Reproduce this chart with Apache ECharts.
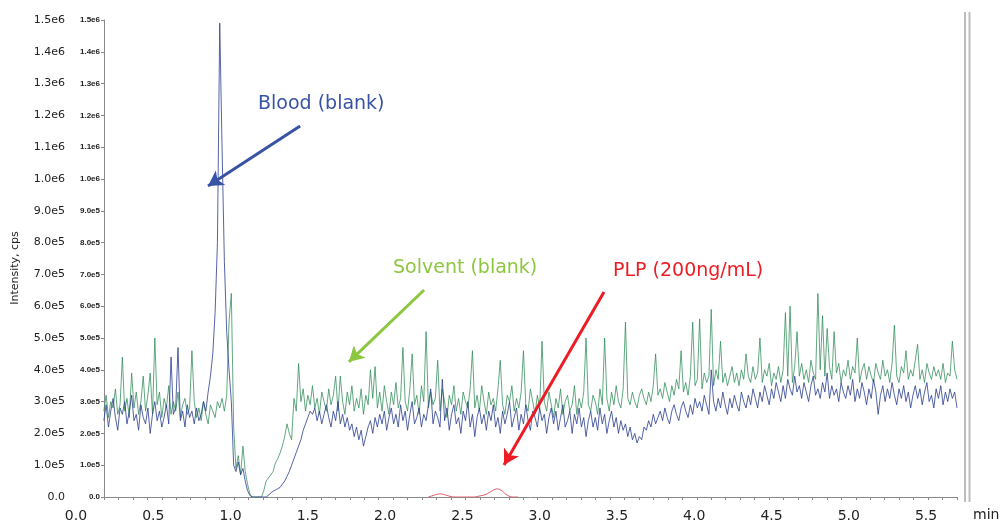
<!DOCTYPE html>
<html>
<head>
<meta charset="utf-8">
<script src="https://cdn.jsdelivr.net/npm/echarts@6/dist/echarts.min.js"></script>
<style>
  html, body { margin: 0; padding: 0; background: #fff; }
  #main { width: 1002px; height: 523px; }
</style>
</head>
<body>
<div id="main"></div>
<script>
// scan times: first scan and spacing (min)
var startTime = 0.18;
var scanStep = 0.015;

// intensities in units of 1e4 cps, one per scan
var bloodValues = [
  24, 29, 22, 27, 31, 25, 21, 28, 26, 30,
  23, 27, 32, 24, 26, 21, 29, 25, 23, 28,
  20, 26, 30, 24, 27, 22, 25, 29, 23, 44,
  26, 28, 47, 24, 27, 22, 29, 25, 27, 23,
  28, 24, 26, 30, 27, 33, 38, 45, 58, 80,
  149, 110, 74, 52, 40, 30, 10, 8, 11, 7,
  9, 5, 2, 0.5, 0, 0, 0, 0, 0, 0,
  0, 0.5, 1.3, 1.8, 2.2, 2.6, 3, 4, 5, 6.5,
  8, 10, 12, 14, 16, 18, 21, 23, 25, 27,
  26, 28, 24, 27, 23, 26, 29, 25, 22, 27,
  24, 30, 23, 26, 22, 25, 21, 23, 19, 22,
  18, 21, 16, 19, 22, 24, 20, 25, 22, 26,
  23, 27, 21, 25, 28, 23, 26, 22, 29, 24,
  27, 21, 26, 30, 23, 25, 28, 22, 26, 24,
  29, 34, 23, 27, 25, 22, 37, 24, 28, 21,
  26, 29, 23, 25, 20, 27, 24, 30, 22, 26,
  19, 25, 28, 23, 26, 21, 27, 24, 29, 22,
  25, 20, 27, 23, 26, 30, 22, 25, 28, 21,
  26, 23, 29, 24, 21, 27, 25, 22, 28, 24,
  26, 20, 25, 28, 23, 27, 21, 25, 29, 22,
  24, 27, 20, 26, 23, 28, 22, 25, 19, 24,
  27, 22, 25, 21, 28, 23, 26, 20, 24, 27,
  22, 25, 20, 24, 21, 23, 19, 22, 18, 20,
  17, 19, 18, 22, 21, 24, 22, 26, 23, 25,
  27, 24, 28, 25, 23, 27, 29, 26, 24, 28,
  30, 27, 25, 29, 26, 31, 28, 30, 27, 32,
  29, 26, 40, 30, 27, 31, 28, 33, 29, 26,
  31, 28, 32, 29, 27, 33, 30, 28, 32, 29,
  34, 31, 28, 33, 30, 35, 32, 29, 34, 31,
  36, 33, 30, 35, 31, 37, 34, 32, 38, 33,
  35, 31, 36, 33, 30, 35, 38, 32, 34, 31,
  36, 33, 39, 31, 35, 32, 34, 30, 36, 33,
  31, 35, 32, 37, 30, 34, 31, 36, 33, 29,
  34, 31, 37, 33, 26, 32, 35, 30, 34, 31,
  36, 32, 29, 34, 31, 35, 30, 33, 28, 32,
  35, 31, 34, 29, 33, 36, 30, 32, 28, 34,
  31, 35, 29, 33, 30, 34, 31, 33, 28
];

var solventValues = [
  27, 32, 25, 30, 28, 34, 26, 29, 44, 27,
  31, 25, 39, 28, 33, 26, 30, 38, 27, 32,
  39, 26, 50, 29, 33, 25, 31, 28, 35, 26,
  30, 27, 33, 25, 29, 31, 26, 28, 46, 30,
  25, 28, 24, 30, 26, 23, 29, 27, 25, 30,
  28, 31, 27, 32, 55, 64, 22, 9, 13, 7,
  16, 8, 4, 1, 0, 0, 0, 0, 0, 2,
  5, 6, 7, 8, 10.7, 12, 13.8, 16, 19, 23,
  20, 18, 31, 27, 42, 30, 34, 27, 32, 29,
  35, 28, 31, 26, 33, 30, 27, 34, 29, 32,
  38, 27, 38, 30, 26, 33, 29, 35, 27, 31,
  28, 34, 26, 32, 29, 40, 31, 41, 28, 33,
  27, 35, 30, 26, 33, 29, 36, 28, 31, 47,
  30, 27, 34, 45, 29, 32, 26, 35, 30, 52,
  28, 33, 29, 31, 43, 27, 34, 30, 25, 32,
  29, 35, 27, 31, 26, 33, 30, 28, 34, 46,
  28, 32, 27, 35, 30, 26, 33, 29, 31, 27,
  34, 43, 29, 26, 32, 30, 35, 27, 31, 28,
  33, 46, 29, 27, 34, 30, 26, 32, 28, 49,
  30, 27, 33, 29, 25, 31, 28, 34, 26, 30,
  32, 27, 29, 35, 26, 31, 28, 33, 50, 29,
  27, 32, 30, 26, 34, 29, 50, 31, 27, 33,
  29, 35, 30, 28, 34, 55, 31, 29, 33, 30,
  28, 32, 34, 31, 29, 33, 30, 35, 45, 32,
  34, 31, 36, 33, 30, 35, 32, 37, 34, 46,
  33, 36, 32, 38, 55, 35, 37, 56, 34, 39,
  36, 38, 59, 35, 40, 37, 49, 36, 39, 35,
  38, 41, 36, 39, 35, 40, 37, 45, 38, 36,
  41, 37, 39, 50, 36, 40, 38, 42, 35, 39,
  37, 41, 36, 40, 58, 38, 60, 36, 41, 52,
  38, 42, 37, 40, 36, 43, 39, 37, 64, 40,
  57, 38, 53, 41, 37, 52, 39, 42, 36, 40,
  38, 43, 37, 41, 39, 50, 36, 40, 42, 37,
  41, 38, 36, 42, 39, 37, 43, 38, 40, 36,
  42, 54, 38, 36, 41, 39, 46, 37, 40, 38,
  43, 48, 37, 40, 36, 42, 39, 37, 41, 38,
  40, 37, 42, 36, 39, 38, 49, 40, 37
];

// PLP trace only shows above the baseline around 2.3-2.9 min
var plpTimes = [2.28, 2.30, 2.32, 2.34, 2.36, 2.38, 2.40, 2.42, 2.44, 2.50, 2.58, 2.60, 2.62, 2.64, 2.66, 2.68, 2.70, 2.72, 2.74, 2.76, 2.78, 2.80, 2.82, 2.86];
var plpValues = [0, 0.3, 0.6, 0.9, 1.0, 0.8, 0.5, 0.2, 0, 0, 0, 0.2, 0.4, 0.6, 1.0, 1.6, 2.2, 2.6, 2.4, 1.8, 0.9, 0.3, 0, 0];

var xTickLabels = ['0.0', '0.5', '1.0', '1.5', '2.0', '2.5', '3.0', '3.5', '4.0', '4.5', '5.0', '5.5'];
var yTickLabels = ['0.0', '1.0e5', '2.0e5', '3.0e5', '4.0e5', '5.0e5', '6.0e5', '7.0e5', '8.0e5', '9.0e5',
  '1.0e6', '1.1e6', '1.2e6', '1.3e6', '1.4e6', '1.5e6'];

var annotations = [
  { text: 'Blood (blank)', color: '#3953a4', from: [1.450, 116.7], to: [0.854, 97.8] },
  { text: 'Solvent (blank)', color: '#8dc63f', from: [2.252, 65.1], to: [1.766, 42.5] },
  { text: 'PLP (200ng/mL)', color: '#ed1c24', from: [3.416, 64.5], to: [2.769, 10.1] }
];

function toPairs(values) {
  var out = [];
  for (var i = 0; i < values.length; i++) {
    out.push([+(startTime + i * scanStep).toFixed(3), values[i]]);
  }
  return out;
}

function tickText(labels, step) {
  return function (v) {
    var k = Math.round(v / step);
    if (Math.abs(v / step - k) > 1e-6) return '';
    return labels[k] || '';
  };
}

var plpData = plpTimes.map(function (t, i) { return [t, plpValues[i]]; });

var myChart = echarts.init(document.getElementById('main'));

var option = {
  animation: false,
  backgroundColor: '#fff',
  grid: [
    { left: 76, right: 45, top: 20, bottom: 26 },
    { left: 104, right: 45, top: 20, bottom: 26 }
  ],
  xAxis: [
    {
      type: 'value', gridIndex: 0, min: 0, max: 5.70, interval: 0.5,
      axisLine: { show: false }, axisTick: { show: false }, splitLine: { show: false },
      axisLabel: {
        margin: 12, color: '#222', fontFamily: 'DejaVu Sans', fontSize: 14,
        showMaxLabel: false,
        formatter: tickText(xTickLabels, 0.5)
      }
    },
    {
      type: 'value', gridIndex: 1, min: 0, max: 59, interval: 1,
      axisLine: { show: true, lineStyle: { color: '#8a8a8a', width: 1 } },
      axisTick: { show: true, length: 3, lineStyle: { color: '#8a8a8a' } },
      axisLabel: { show: false }, splitLine: { show: false }
    }
  ],
  yAxis: [
    {
      type: 'value', gridIndex: 0, min: 0, max: 150, interval: 10,
      axisLine: { show: false }, axisTick: { show: false }, splitLine: { show: false },
      axisLabel: {
        margin: 11, color: '#222', fontFamily: 'DejaVu Sans', fontSize: 11,
        formatter: tickText(yTickLabels, 10)
      }
    },
    {
      type: 'value', gridIndex: 1, min: 0, max: 150, interval: 10,
      axisLine: { show: true, lineStyle: { color: '#8a8a8a', width: 1 } },
      axisTick: { show: true, length: 3, lineStyle: { color: '#8a8a8a' } },
      splitLine: { show: false },
      axisLabel: {
        margin: 4, color: '#222', fontFamily: 'Liberation Sans', fontWeight: 'bold', fontSize: 8,
        formatter: tickText(yTickLabels, 10)
      }
    }
  ],
  series: [
    {
      name: 'PLP (200ng/mL)', type: 'line', xAxisIndex: 0, yAxisIndex: 0,
      data: plpData, showSymbol: false, symbol: 'none',
      lineStyle: { color: '#e0606a', width: 1 }
    },
    {
      name: 'Solvent (blank)', type: 'line', xAxisIndex: 0, yAxisIndex: 0,
      data: toPairs(solventValues), showSymbol: false, symbol: 'none',
      lineStyle: { color: '#2e8b57', width: 1, opacity: 0.75 }
    },
    {
      name: 'Blood (blank)', type: 'line', xAxisIndex: 0, yAxisIndex: 0,
      data: toPairs(bloodValues), showSymbol: false, symbol: 'none',
      lineStyle: { color: '#2b3f8f', width: 1, opacity: 0.8 },
      markLine: {
        silent: true, animation: false,
        symbol: ['none', 'arrow'], symbolSize: [13, 15],
        label: { show: false },
        data: annotations.map(function (a) {
          return [
            { coord: a.from, lineStyle: { color: a.color, width: 3, type: 'solid' } },
            { coord: a.to }
          ];
        })
      }
    }
  ],
  graphic: [
    { type: 'text', left: 258, top: 95, style: { text: annotations[0].text, fill: annotations[0].color, font: '19px "DejaVu Sans"' } },
    { type: 'text', left: 393, top: 259, style: { text: annotations[1].text, fill: annotations[1].color, font: '19px "DejaVu Sans"' } },
    { type: 'text', left: 613, top: 262, style: { text: annotations[2].text, fill: annotations[2].color, font: '19px "DejaVu Sans"' } },
    { type: 'text', x: 15, y: 268, rotation: Math.PI / 2,
      style: { text: 'Intensity, cps', fill: '#222', font: '11px "DejaVu Sans"', align: 'center', verticalAlign: 'middle' } },
    { type: 'text', left: 973, top: 508, style: { text: 'min', fill: '#222', font: '14px "DejaVu Sans"' } },
    { type: 'line', shape: { x1: 965, y1: 12, x2: 965, y2: 502 }, style: { stroke: '#bdbdbd', lineWidth: 2 } },
    { type: 'line', shape: { x1: 969.5, y1: 12, x2: 969.5, y2: 502 }, style: { stroke: '#bdbdbd', lineWidth: 2 } }
  ]
};

myChart.setOption(option);
</script>
</body>
</html>
